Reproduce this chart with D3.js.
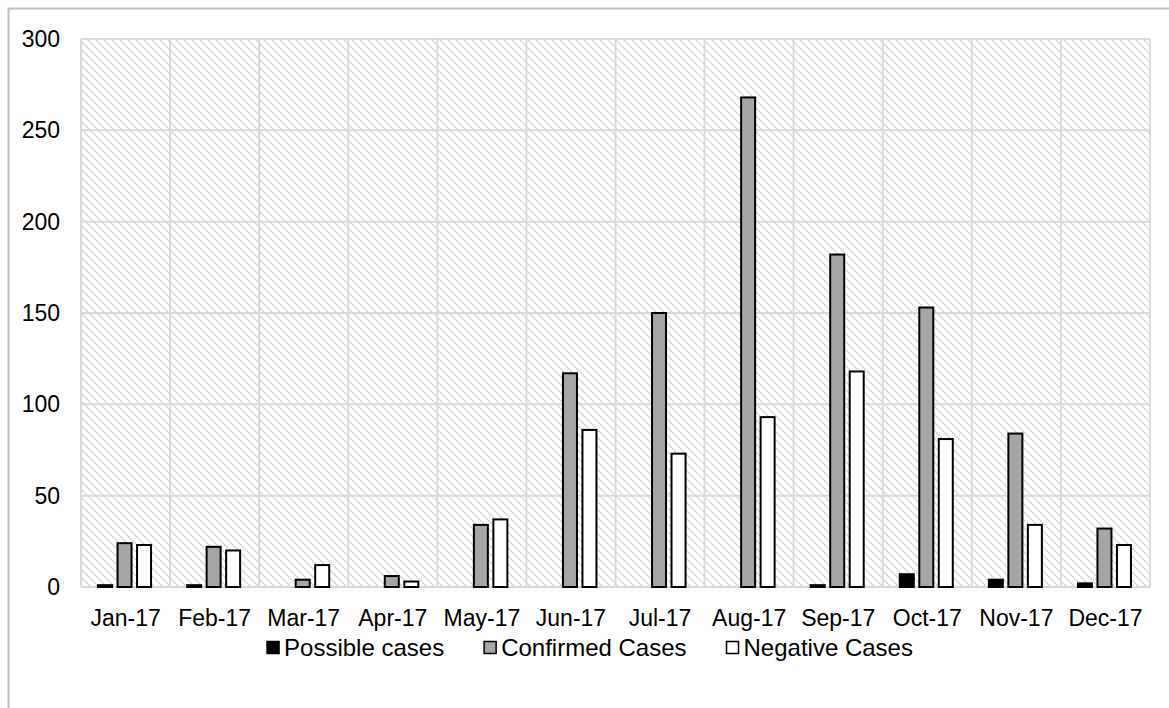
<!DOCTYPE html>
<html>
<head>
<meta charset="utf-8">
<script src="https://cdn.jsdelivr.net/npm/d3@7"></script>
<style>
  html, body { margin: 0; padding: 0; background: #fff; }
  svg { display: block; font-family: "Liberation Sans", Arial, sans-serif; }
</style>
</head>
<body>
<svg id="chart" width="1169" height="708"></svg>
<script>
// Monthly case counts, 2017
const months = ["Jan-17","Feb-17","Mar-17","Apr-17","May-17","Jun-17","Jul-17","Aug-17","Sep-17","Oct-17","Nov-17","Dec-17"];
const possibleCases  = [1, 1, 0, 0, 0, 0, 0, 0, 1, 7, 4, 2];
const confirmedCases = [24, 22, 4, 6, 34, 117, 150, 268, 182, 153, 84, 32];
const negativeCases  = [23, 20, 12, 3, 37, 86, 73, 93, 118, 81, 34, 23];
const seriesNames = ["Possible cases", "Confirmed Cases", "Negative Cases"];
const yTicks = [0, 50, 100, 150, 200, 250, 300];

const seriesFill = ["#000000", "#a6a6a6", "#ffffff"];
const seriesValues = [possibleCases, confirmedCases, negativeCases];

const FONT = 23;
const LEGEND_FONT = 24;
const svg = d3.select("#chart");
const W = 1169, H = 708;
const plot = { left: 81, top: 39, right: 1150, bottom: 587 };

// outer frame (runs past the right and bottom edges)
svg.append("rect")
  .attr("x", 8.5).attr("y", 8.5)
  .attr("width", W + 10).attr("height", H + 10)
  .attr("fill", "#fff").attr("stroke", "#bfbfbf").attr("stroke-width", 2);

// diagonal hatch for the plot area
const defs = svg.append("defs");
const pat = defs.append("pattern")
  .attr("id", "hatch").attr("patternUnits", "userSpaceOnUse")
  .attr("width", 8).attr("height", 8);
pat.append("rect").attr("width", 8).attr("height", 8).attr("fill", "#ffffff");
pat.append("path")
  .attr("d", "M-2,-2 L10,10 M-2,6 L2,10 M6,-2 L10,2")
  .attr("stroke", "#d6d6d6").attr("stroke-width", 2)
  .attr("stroke-dasharray", "2,1");

const x = d3.scaleBand().domain(months).range([plot.left, plot.right]).paddingInner(0).paddingOuter(0);
const y = d3.scaleLinear().domain([0, 300]).range([plot.bottom, plot.top]);

svg.append("rect")
  .attr("x", plot.left).attr("y", plot.top)
  .attr("width", plot.right - plot.left).attr("height", plot.bottom - plot.top)
  .attr("fill", "url(#hatch)");

// gridlines
const grid = svg.append("g").attr("stroke", "#d9d9d9").attr("stroke-width", 2);
grid.selectAll("line.h").data(yTicks).join("line")
  .attr("x1", plot.left).attr("x2", plot.right)
  .attr("y1", d => y(d)).attr("y2", d => y(d));
const bounds = months.map(m => x(m)).concat([plot.right]);
grid.selectAll("line.v").data(bounds).join("line")
  .attr("x1", d => d).attr("x2", d => d)
  .attr("y1", plot.top).attr("y2", plot.bottom);

// bars
const barW = 14, gap = 5.5;
const groupW = barW * 3 + gap * 2;
const barsG = svg.append("g");
seriesValues.forEach((vals, si) => {
  barsG.selectAll("rect.s" + si).data(vals).join("rect")
    .attr("x", (d, i) => x(months[i]) + x.bandwidth() / 2 - groupW / 2 + si * (barW + gap) - 1)
    .attr("y", d => y(d))
    .attr("width", barW)
    .attr("height", d => y(0) - y(d))
    .attr("fill", seriesFill[si])
    .attr("stroke", d => d > 0 ? "#000" : "none")
    .attr("stroke-width", 2);
});

// axes
const yAxis = d3.axisLeft(y).tickValues(yTicks).tickSize(0).tickPadding(21);
svg.append("g").attr("transform", `translate(${plot.left},0)`).call(yAxis)
  .call(g => g.select(".domain").remove())
  .selectAll("text").attr("font-size", FONT).attr("fill", "#000")
  .attr("font-family", "Liberation Sans, Arial, sans-serif");

const xAxis = d3.axisBottom(x).tickSize(0).tickPadding(23);
svg.append("g").attr("transform", `translate(0,${plot.bottom})`).call(xAxis)
  .call(g => g.select(".domain").remove())
  .selectAll("text").attr("font-size", FONT).attr("fill", "#000")
  .attr("font-family", "Liberation Sans, Arial, sans-serif");

// legend
const legend = svg.append("g").attr("font-size", LEGEND_FONT);
const sq = 13, sqGap = 4, itemGap = 40;
const measure = svg.append("text").attr("font-size", LEGEND_FONT).attr("visibility", "hidden");
const widths = seriesNames.map(n => { measure.text(n); return measure.node().getComputedTextLength(); });
measure.remove();
const total = d3.sum(widths) + seriesNames.length * (sq + sqGap) + itemGap * (seriesNames.length - 1);
let lx = 590 - total / 2;
const ly = 648;
seriesNames.forEach((n, i) => {
  legend.append("rect").attr("x", lx).attr("y", ly - sq / 2)
    .attr("width", sq - 1).attr("height", sq - 1)
    .attr("fill", seriesFill[i]).attr("stroke", "#000").attr("stroke-width", 1.5);
  legend.append("text").attr("x", lx + sq + sqGap).attr("y", ly).attr("dy", "0.35em")
    .attr("fill", "#000").text(n);
  lx += sq + sqGap + widths[i] + itemGap;
});
</script>
</body>
</html>
